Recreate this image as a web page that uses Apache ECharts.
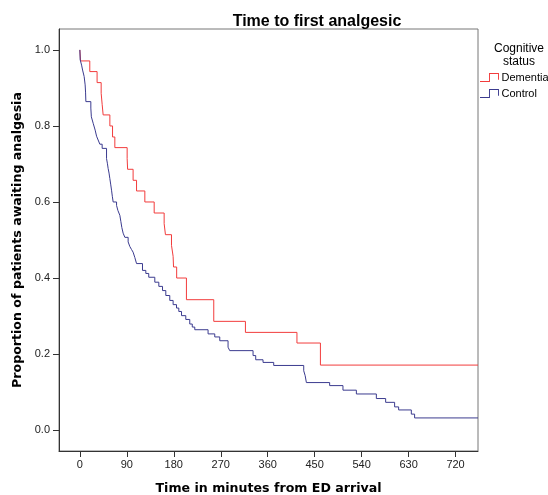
<!DOCTYPE html>
<html>
<head>
<meta charset="utf-8">
<script src="https://cdn.jsdelivr.net/npm/echarts@6/dist/echarts.min.js"></script>
<style>
  html, body { margin: 0; padding: 0; background: #fff; }
  #chart { width: 548px; height: 495px; }
</style>
</head>
<body>
<div id="chart"></div>
<script>
// Kaplan-Meier steps: time (minutes) and proportion after each drop
const dementiaTimes = [0, 1.3, 19, 33, 40.8, 42.7, 44.6, 57.5, 62.6, 67, 90.6, 91.5, 102, 108.6,
  124.5, 142.4, 161.5, 164, 175.6, 178.7, 179.5, 185.5, 204.2, 256.6, 317.3, 416, 461, 763];
const dementiaSurv = [1.0, 0.971, 0.943, 0.914, 0.886, 0.857, 0.829, 0.800, 0.771, 0.743, 0.714, 0.686, 0.657, 0.629,
  0.600, 0.571, 0.543, 0.514, 0.486, 0.457, 0.429, 0.400, 0.343, 0.286, 0.257, 0.229, 0.171, 0.171];

const controlTimes = [0, 0.6, 3.3, 5.2, 8.2, 10.1, 10.9, 11.5, 21, 22, 25.5, 29.3, 32, 35, 38.3, 42.7,
  51.1, 52.7, 54.2, 55.9, 57.4, 59, 60.7, 62.2, 63.8, 70.3, 72.8, 76.6, 78.5, 80.4, 82.9, 86.2,
  92.5, 95.7, 99, 102, 105.3, 108.6, 120, 126.4, 132, 143.6, 151.3, 158.4, 164.7, 172.3, 178.7,
  185.2, 189.6, 194.8, 203, 210.6, 215.4, 220.2, 245.7, 258.5, 268.1, 284, 287.2, 331.9, 337,
  351, 371.5, 429, 431.8, 434.1, 478.7, 504.2, 529.9, 568.2, 586, 603.2, 610.9, 635.2, 641.5, 763];
const controlSurv = [1.0, 0.974, 0.960, 0.947, 0.930, 0.908, 0.889, 0.864, 0.847, 0.824, 0.807, 0.789, 0.773, 0.763, 0.752, 0.741,
  0.714, 0.702, 0.688, 0.676, 0.662, 0.647, 0.631, 0.615, 0.600, 0.591, 0.578, 0.565, 0.549, 0.533, 0.518, 0.507,
  0.495, 0.483, 0.475, 0.468, 0.454, 0.438, 0.420, 0.412, 0.402, 0.389, 0.378, 0.367, 0.354, 0.341, 0.330,
  0.321, 0.312, 0.301, 0.291, 0.279, 0.271, 0.264, 0.253, 0.245, 0.235, 0.218, 0.209, 0.196, 0.185,
  0.178, 0.170, 0.156, 0.143, 0.125, 0.117, 0.105, 0.095, 0.083, 0.073, 0.061, 0.053, 0.042, 0.032, 0.032];

const xTicks = [0, 90, 180, 270, 360, 450, 540, 630, 720];
const yTicks = [0, 0.2, 0.4, 0.6, 0.8, 1.0];

const pairs = (xs, ys) => xs.map((x, i) => [x, ys[i]]);

const font = 'Liberation Sans, Arial, sans-serif';
const titleFont = 'DejaVu Sans, Verdana, sans-serif';
const stepIcon = 'path://M0,8.5 L9.5,8.5 L9.5,0 L20,0 L20,7 L19,7 L19,1 L10.5,1 L10.5,9.5 L0,9.5 Z';

const chart = echarts.init(document.getElementById('chart'), null, { renderer: 'canvas' });

chart.setOption({
  backgroundColor: '#fff',
  animation: false,
  title: [
    {
      text: 'Time to first analgesic',
      left: 312, top: 9, textAlign: 'center',
      textStyle: { fontFamily: font, fontSize: 16, fontWeight: 'bold', color: '#000' }
    },
    {
      text: 'Cognitive\nstatus',
      left: 514, top: 37, textAlign: 'center',
      textStyle: { fontFamily: font, fontSize: 12, fontWeight: 'normal', color: '#000', lineHeight: 13 }
    }
  ],
  legend: {
    orient: 'vertical',
    left: 480, top: 72,
    padding: 0,
    itemWidth: 20, itemHeight: 9, itemGap: 5,
    icon: stepIcon,
    textStyle: { fontFamily: font, fontSize: 11, color: '#000', padding: [0, 0, 0, -3] },
    data: ['Dementia', 'Control']
  },
  grid: {
    left: 59, top: 29, right: 70, bottom: 44,
    outerBoundsMode: 'none',
    show: true, borderColor: '#777', borderWidth: 1
  },
  xAxis: {
    type: 'value',
    min: -40, max: 763,
    name: 'Time in minutes from ED arrival',
    nameLocation: 'middle', nameGap: 31,
    nameTextStyle: { fontFamily: titleFont, fontSize: 12.6, fontWeight: 'bold', color: '#000' },
    axisLine: { onZero: false, lineStyle: { color: '#333', width: 1 } },
    axisTick: { customValues: xTicks, length: 6, lineStyle: { color: '#333' } },
    axisLabel: { customValues: xTicks, fontFamily: font, fontSize: 11, color: '#222', margin: 8 },
    splitLine: { show: false }
  },
  yAxis: {
    type: 'value',
    min: -0.055, max: 1.055,
    name: 'Proportion of patients awaiting analgesia',
    nameLocation: 'middle', nameGap: 31,
    nameTextStyle: { fontFamily: titleFont, fontSize: 12.6, fontWeight: 'bold', color: '#000' },
    axisLine: { show: true, onZero: false, lineStyle: { color: '#333', width: 1 } },
    axisTick: { show: true, customValues: yTicks, length: 6, lineStyle: { color: '#333' } },
    axisLabel: {
      customValues: yTicks, fontFamily: font, fontSize: 11, color: '#222', margin: 9,
      formatter: v => v.toFixed(1)
    },
    splitLine: { show: false }
  },
  series: [
    {
      name: 'Dementia',
      type: 'line',
      step: 'end',
      showSymbol: false,
      itemStyle: { color: '#f23c3c' },
      lineStyle: { color: '#f23c3c', width: 1 },
      data: pairs(dementiaTimes, dementiaSurv)
    },
    {
      name: 'Control',
      type: 'line',
      step: 'end',
      showSymbol: false,
      itemStyle: { color: '#3b3b8f' },
      lineStyle: { color: '#3b3b8f', width: 1 },
      data: pairs(controlTimes, controlSurv)
    }
  ]
});
</script>
</body>
</html>
